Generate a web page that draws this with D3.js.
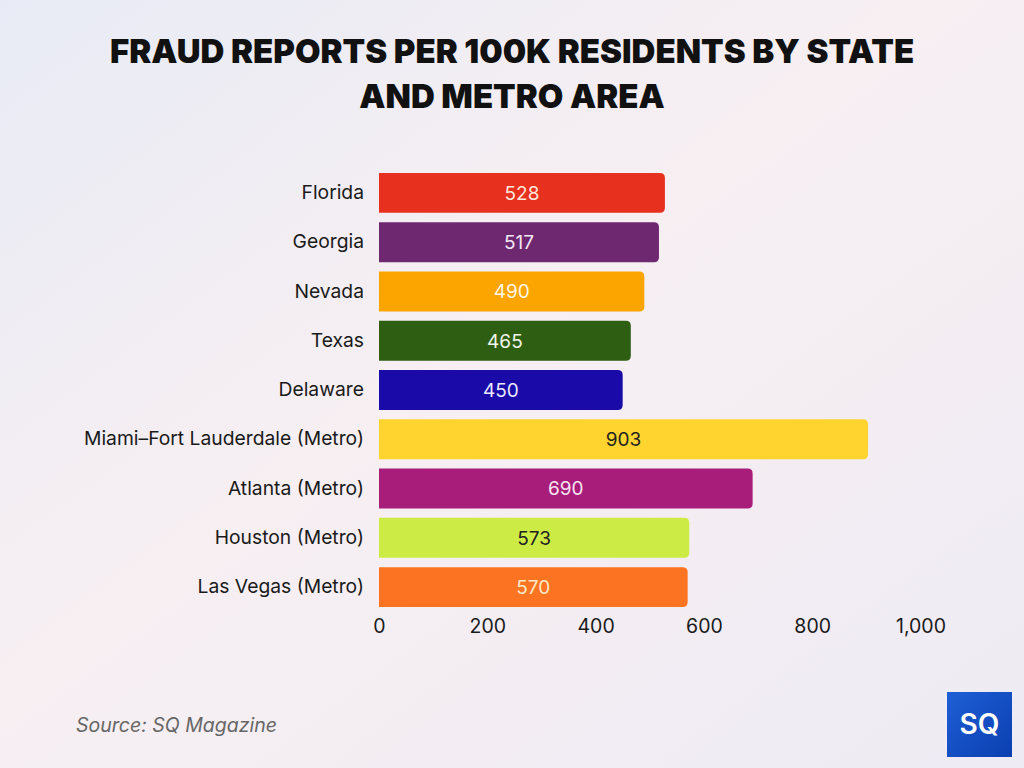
<!DOCTYPE html>
<html><head><meta charset="utf-8">
<script src="https://cdn.jsdelivr.net/npm/d3@7"></script>
<style>html,body{margin:0;padding:0;width:1024px;height:768px;overflow:hidden}</style>
</head><body>
<svg id="c" width="1024" height="768"></svg>
<script>
const categories = ["Florida","Georgia","Nevada","Texas","Delaware","Miami–Fort Lauderdale (Metro)","Atlanta (Metro)","Houston (Metro)","Las Vegas (Metro)"];
const values = [528,517,490,465,450,903,690,573,570];
const barColors = ["#E8301F","#6E2870","#FCA500","#2E5E12","#1A0AA8","#FFD42E","#A81C7A","#CDEB45","#FC7421"];
const labelColors = ["#fde6dc","#f3e6f5","#fff6e6","#f2f6ea","#e8e8ff","#222222","#f7e4f0","#222222","#fbe8c8"];
const tickValues = [0,200,400,600,800,1000];

const svg = d3.select("#c");
const defs = svg.append("defs");
const bg = defs.append("linearGradient").attr("id","bg").attr("x1","0").attr("y1","0").attr("x2","1").attr("y2","1");
bg.append("stop").attr("offset","0").attr("stop-color","#e8ebf5");
bg.append("stop").attr("offset","0.45").attr("stop-color","#f7eff2");
bg.append("stop").attr("offset","1").attr("stop-color","#eeebf4");
svg.append("rect").attr("width",1024).attr("height",768).attr("fill","url(#bg)");

const lg = defs.append("linearGradient").attr("id","logo").attr("x1","0").attr("y1","0").attr("x2","1").attr("y2","1");
lg.append("stop").attr("offset","0").attr("stop-color","#1f5fd6");
lg.append("stop").attr("offset","1").attr("stop-color","#0a3fb0");

// title
const title = svg.append("text").attr("text-anchor","middle").attr("font-family","Inter, Lato, sans-serif")
  .attr("font-weight",900).attr("font-size",33).attr("fill","#111");
title.append("tspan").attr("x",512).attr("y",63).text("FRAUD REPORTS PER 100K RESIDENTS BY STATE");
title.append("tspan").attr("x",512).attr("y",108).text("AND METRO AREA");

const x = d3.scaleLinear().domain([0,1000]).range([379,920.5]);
const y = d3.scaleBand().domain(categories).range([168.5,611.5]).paddingInner(0.19).paddingOuter(0.09);

const r = 5;
function barPath(x0,y0,w,h){
  return `M${x0},${y0}H${x0+w-r}Q${x0+w},${y0} ${x0+w},${y0+r}V${y0+h-r}Q${x0+w},${y0+h} ${x0+w-r},${y0+h}H${x0}Z`;
}
const g = svg.append("g");
categories.forEach((c,i)=>{
  const y0 = y(c), h = y.bandwidth(), w = x(values[i]) - x(0);
  g.append("path").attr("d",barPath(x(0),y0,w,h)).attr("fill",barColors[i]);
  g.append("text").attr("x",x(0)+w/2).attr("y",y0+h/2).attr("dy","0.36em").attr("text-anchor","middle")
    .attr("font-family","Inter, Roboto, sans-serif").attr("font-size",19).attr("fill",labelColors[i])
    .text(d3.format(",")(values[i]));
});

const yAxis = svg.append("g").attr("transform",`translate(${x(0)},0)`).call(d3.axisLeft(y).tickSize(0).tickPadding(15));
yAxis.select(".domain").remove();
yAxis.selectAll("text").attr("font-family","Inter, Roboto, sans-serif").attr("font-size",19.3).attr("fill","#1a1a1a");

const xAxis = svg.append("g").attr("transform",`translate(0,${612})`).call(d3.axisBottom(x).tickValues(tickValues).tickSize(0).tickPadding(7).tickFormat(d3.format(",")));
xAxis.select(".domain").remove();
xAxis.selectAll("text").attr("font-family","Inter, Roboto, sans-serif").attr("font-size",19.5).attr("fill","#1a1a1a");

svg.append("text").attr("x",76).attr("y",732).attr("font-family","Inter, Roboto, sans-serif").attr("font-style","italic")
  .attr("font-size",19.5).attr("fill","#666").text("Source: SQ Magazine");

svg.append("rect").attr("x",947).attr("y",692).attr("width",65).attr("height",65).attr("fill","url(#logo)");
svg.append("text").attr("x",979.5).attr("y",734).attr("text-anchor","middle").attr("font-family","Inter, sans-serif")
  .attr("font-weight",600).attr("font-size",28).attr("fill","#fff").text("SQ");
</script>
</body></html>
